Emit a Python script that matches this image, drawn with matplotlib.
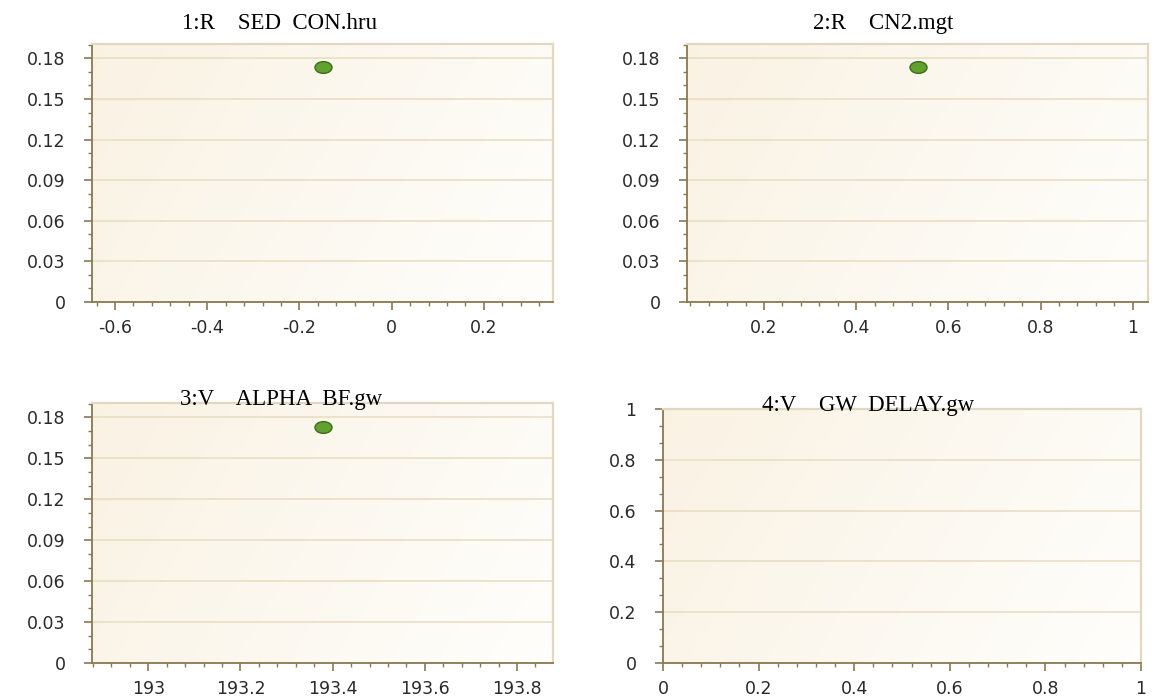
import numpy as np
import matplotlib
matplotlib.use("Agg")
import matplotlib.pyplot as plt
from matplotlib.path import Path
from matplotlib.transforms import Affine2D
from matplotlib.ticker import MultipleLocator, AutoMinorLocator, FuncFormatter


titles = ["1:R    SED  CON.hru", "2:R    CN2.mgt", "3:V    ALPHA  BF.gw", "4:V    GW  DELAY.gw"]
x_values = [-0.15, 0.533, 193.378, None]
y_values = [0.1733, 0.1733, 0.1733, None]

# axes boxes in pixels: left, top, right, bottom
boxes = [(92, 44, 553, 302), (687, 44, 1148, 302), (92, 403, 553, 663), (663, 409, 1141, 663)]
title_pos = [(280, 29), (883, 29), (281, 405), (868, 411)]

W, H = 1153, 700
SPINE = "#8a7850"
LIGHT = "#e2d8c2"
GRID = "#e8dcc0"
ellipse = Path.unit_circle().transformed(Affine2D().scale(1.45, 1.0))

fig = plt.figure(figsize=(W / 100, H / 100), dpi=100)
fmt = FuncFormatter(lambda v, _: f"{v:g}")

# background shading: beige on the upper left, fading to near white on the right
gx = np.linspace(0, 1, 64)
gy = np.linspace(0, 1, 64)
bg = np.clip(0.75 * gx[None, :] + 0.25 * gy[:, None], 0, 1)
cream = np.array([0.980, 0.949, 0.890])
white = np.array([0.999, 0.997, 0.988])

for i, (l, t, r, b) in enumerate(boxes):
    ax = fig.add_axes([l / W, 1 - b / H, (r - l) / W, (b - t) / H])
    ax.set_facecolor("white")
    img = cream + (white - cream) * bg[..., None]
    ax.imshow(img, extent=(0, 1, 0, 1), transform=ax.transAxes, aspect="auto", zorder=0,
              interpolation="bilinear", origin="upper")

    x, y = x_values[i], y_values[i]
    if x is not None:
        ax.set_xlim(x - 0.5, x + 0.5)
        ax.set_ylim(0, y * 1.1)
        ax.yaxis.set_major_locator(MultipleLocator(0.03))
        ax.scatter([x], [y], marker=ellipse, s=150, c="#62a030", edgecolors="#3a6e18", linewidths=1.0, zorder=5)
    else:
        ax.set_xlim(0, 1)
        ax.set_ylim(0, 1)
        ax.yaxis.set_major_locator(MultipleLocator(0.2))
    ax.xaxis.set_major_locator(MultipleLocator(0.2))
    ax.xaxis.set_minor_locator(AutoMinorLocator(5))
    ax.yaxis.set_minor_locator(AutoMinorLocator(3))

    ax.xaxis.set_major_formatter(fmt)
    ax.yaxis.set_major_formatter(fmt)
    ax.grid(axis="y", which="major", color=GRID, linewidth=1.1, zorder=1)
    ax.set_axisbelow(True)

    for side in ("left", "bottom"):
        ax.spines[side].set_color(SPINE)
        ax.spines[side].set_linewidth(1.3)
    for side in ("top", "right"):
        ax.spines[side].set_color(LIGHT)
        ax.spines[side].set_linewidth(1.6)

    ax.tick_params(which="major", length=6, width=1.2, color=SPINE, labelsize=12.5, labelcolor="#2a2a2a")
    ax.tick_params(axis="y", which="major", pad=13)
    ax.tick_params(axis="x", which="major", pad=6)
    ax.tick_params(which="minor", length=3, width=1.0, color=SPINE)

    tx, ty = title_pos[i]
    fig.text(tx / W, 1 - ty / H, titles[i], ha="center", va="baseline",
             family="Liberation Serif", fontsize=16.5, color="black")

fig.savefig("out.png", dpi=100)
